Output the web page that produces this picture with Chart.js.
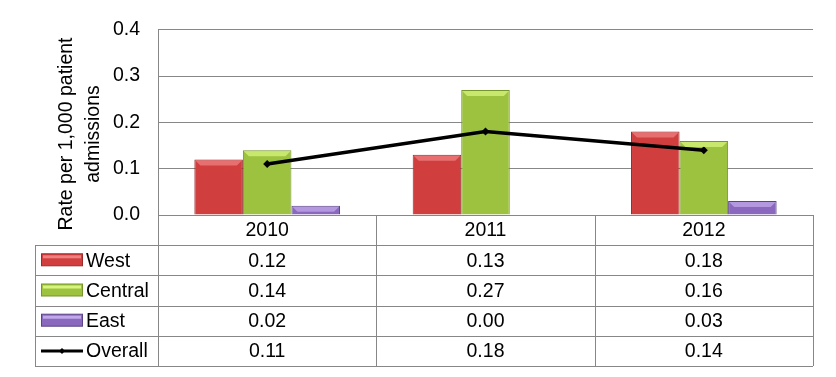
<!DOCTYPE html>
<html>
<head>
<meta charset="utf-8">
<script src="https://cdn.jsdelivr.net/npm/chart.js@4"></script>
<style>
  html, body { margin: 0; padding: 0; background: #fff; }
  #wrap { width: 836px; height: 377px; }
</style>
</head>
<body>
<div id="wrap"><canvas id="chart" width="836" height="377"></canvas></div>
<script>
// Chart values
const years = ['2010', '2011', '2012'];
const west = [0.12, 0.13, 0.18];
const central = [0.14, 0.27, 0.16];
const east = [0.02, 0.00, 0.03];
const overall = [0.11, 0.18, 0.14];
const yTicks = [0, 0.1, 0.2, 0.3, 0.4];
const yTitle = ['Rate per 1,000 patient', 'admissions'];

const FONT = '"Liberation Sans", Arial, sans-serif';
const FSIZE = 19.5;
const GRID = '#878787';

// rows of the data table under the plot
const tableRows = [
    { label: 'West', values: west, fill: '#D03E3E', edge: '#9C2A2A', hi: '#F08080' },
    { label: 'Central', values: central, fill: '#9CC23F', edge: '#76952C', hi: '#D6F47E' },
    { label: 'East', values: east, fill: '#8A68BE', edge: '#5C4486', hi: '#C2A8EA' },
    { label: 'Overall', values: overall, line: true }
];

// bevel highlight on top of every bar
const barBevel = {
    id: 'barBevel',
    afterDatasetsDraw(chart) {
        const ctx = chart.ctx;
        chart.data.datasets.forEach((ds, i) => {
            if (ds.type === 'line') return;
            const meta = chart.getDatasetMeta(i);
            meta.data.forEach(bar => {
                const h = bar.base - bar.y;
                if (h < 2) return;
                const w = bar.width;
                const x0 = bar.x - w / 2;
                ctx.save();
                ctx.fillStyle = ds.hiColor;
                ctx.globalAlpha = 0.75;
                ctx.beginPath();
                ctx.moveTo(x0 + 1, bar.y + 1);
                ctx.lineTo(x0 + w - 1, bar.y + 1);
                ctx.lineTo(x0 + w - 6, bar.y + Math.min(6, h - 1));
                ctx.lineTo(x0 + 6, bar.y + Math.min(6, h - 1));
                ctx.closePath();
                ctx.fill();
                ctx.restore();
            });
        });
        // redraw line on top of highlights
    }
};

// y title and data table
const tablePlugin = {
    id: 'dataTable',
    afterDraw(chart) {
        const ctx = chart.ctx;
        const area = chart.chartArea;
        const colW = (area.right - area.left) / years.length;
        const rowH = 30.2;
        const leftX = 35;
        const top = area.bottom;
        ctx.save();
        ctx.font = FSIZE + 'px ' + FONT;
        ctx.fillStyle = '#000';

        // y axis title
        ctx.save();
        ctx.textAlign = 'center';
        ctx.textBaseline = 'alphabetic';
        const titleX = [72, 99];
        yTitle.forEach((t, i) => {
            ctx.save();
            ctx.translate(titleX[i], 134);
            ctx.rotate(-Math.PI / 2);
            ctx.fillText(t, 0, 0);
            ctx.restore();
        });
        ctx.restore();

        // grid lines of the table
        ctx.strokeStyle = GRID;
        ctx.lineWidth = 1;
        const bottom = top + rowH * (tableRows.length + 1);
        ctx.beginPath();
        for (let i = 0; i <= years.length; i++) {
            const x = Math.round(area.left + i * colW) + 0.5;
            ctx.moveTo(x, top);
            ctx.lineTo(x, bottom);
        }
        ctx.moveTo(leftX + 0.5, top + rowH);
        ctx.lineTo(leftX + 0.5, bottom);
        for (let r = 1; r <= tableRows.length + 1; r++) {
            const y = Math.round(top + r * rowH) + 0.5;
            ctx.moveTo(leftX, y);
            ctx.lineTo(area.right, y);
        }
        ctx.stroke();

        // header
        ctx.textAlign = 'center';
        ctx.textBaseline = 'middle';
        years.forEach((yr, i) => {
            ctx.fillText(yr, area.left + (i + 0.5) * colW, top + rowH / 2 + 1);
        });

        // rows
        tableRows.forEach((row, r) => {
            const cy = top + (r + 1.5) * rowH + 1;
            if (row.line) {
                ctx.strokeStyle = '#000';
                ctx.lineWidth = 3;
                ctx.beginPath();
                ctx.moveTo(41, cy - 1);
                ctx.lineTo(83, cy - 1);
                ctx.stroke();
                ctx.fillStyle = '#000';
                ctx.beginPath();
                ctx.moveTo(62, cy - 4);
                ctx.lineTo(65, cy - 1);
                ctx.lineTo(62, cy + 2);
                ctx.lineTo(59, cy - 1);
                ctx.closePath();
                ctx.fill();
            } else {
                ctx.fillStyle = row.fill;
                ctx.fillRect(41.5, cy - 7.5, 41, 12);
                ctx.fillStyle = row.hi;
                ctx.fillRect(43, cy - 6, 38, 3);
                ctx.strokeStyle = row.edge;
                ctx.lineWidth = 1;
                ctx.strokeRect(41.5, cy - 7.5, 41, 12);
            }
            ctx.fillStyle = '#000';
            ctx.textAlign = 'left';
            ctx.fillText(row.label, 86, cy);
            ctx.textAlign = 'center';
            row.values.forEach((v, i) => {
                ctx.fillText(v.toFixed(2), area.left + (i + 0.5) * colW, cy);
            });
        });
        ctx.restore();
    }
};

const ctx = document.getElementById('chart').getContext('2d');
new Chart(ctx, {
    data: {
        labels: years,
        datasets: [
            {
                type: 'line',
                label: 'Overall',
                data: overall,
                borderColor: '#000',
                backgroundColor: '#000',
                borderWidth: 3.5,
                pointStyle: 'rectRot',
                pointRadius: 4,
                pointBorderWidth: 0,
                tension: 0,
                order: 0
            },
            ...tableRows.filter(r => !r.line).map(r => ({
                type: 'bar',
                label: r.label,
                data: r.values,
                backgroundColor: r.fill,
                borderColor: r.edge,
                borderWidth: 1,
                hiColor: r.hi,
                order: 1
            }))
        ]
    },
    options: {
        responsive: false,
        animation: false,
        layout: { padding: { left: 0, top: 22, right: 23, bottom: 162 } },
        plugins: {
            legend: { display: false },
            tooltip: { enabled: false }
        },
        datasets: {
            bar: { categoryPercentage: 0.667, barPercentage: 1.0 }
        },
        scales: {
            x: { display: false },
            y: {
                min: 0,
                max: 0.4,
                afterFit: s => { s.width = 158; },
                afterBuildTicks: s => { s.ticks = yTicks.map(v => ({ value: v })); },
                ticks: {
                    padding: 18,
                    color: '#000',
                    font: { family: FONT, size: FSIZE },
                    callback: v => Number(v).toFixed(1)
                },
                grid: { color: GRID, lineWidth: 1, drawTicks: false },
                border: { display: true, color: GRID }
            }
        }
    },
    plugins: [barBevel, tablePlugin]
});
</script>
</body>
</html>
